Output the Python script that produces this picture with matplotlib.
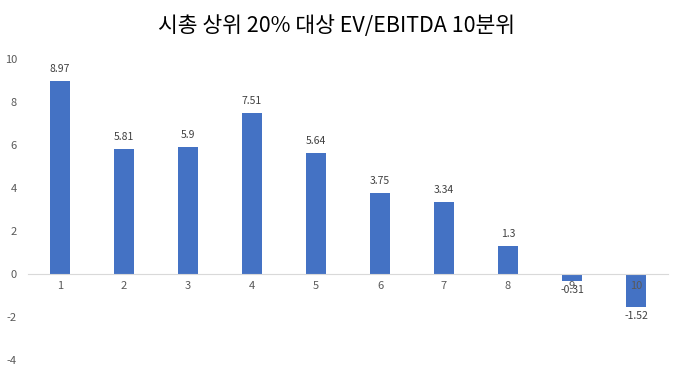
import matplotlib
matplotlib.use("Agg")
import matplotlib.pyplot as plt

plt.rcParams['font.family'] = ['Noto Sans CJK KR', 'DejaVu Sans']
plt.rcParams['axes.unicode_minus'] = False

deciles = ['1', '2', '3', '4', '5', '6', '7', '8', '9', '10']
values = [8.97, 5.81, 5.9, 7.51, 5.64, 3.75, 3.34, 1.3, -0.31, -1.52]
labels = ['8.97', '5.81', '5.9', '7.51', '5.64', '3.75', '3.34', '1.3', '-0.31', '-1.52']

fig = plt.figure(figsize=(6.74, 3.67), dpi=100)
ax = fig.add_axes([28 / 674, 0.019, 640 / 674, 0.82])

xs = range(len(values))
ax.bar(xs, values, width=0.31, color='#4472C4', zorder=2)
ax.set_axisbelow(False)

for x, v, t in zip(xs, values, labels):
    if v >= 0:
        ax.annotate(t, (x, v), xytext=(0, 5), textcoords='offset points',
                    ha='center', va='bottom', fontsize=7.5, color='#404040')
    else:
        ax.annotate(t, (x, v), xytext=(0, -3), textcoords='offset points',
                    ha='center', va='top', fontsize=7.5, color='#404040')

ax.set_xlim(-0.5, 9.5)
ax.set_ylim(-4, 10)
ax.set_yticks(range(-4, 11, 2))
ax.set_xticks(list(xs))
ax.set_xticklabels(deciles)

for s in ['top', 'right', 'left']:
    ax.spines[s].set_visible(False)
ax.spines['bottom'].set_position(('data', 0))
ax.spines['bottom'].set_color('#D9D9D9')
ax.tick_params(axis='both', length=0, labelsize=8, colors='#595959')
ax.tick_params(axis='x', pad=5)
ax.tick_params(axis='y', pad=8)

fig.text(0.5, 0.928, '시총 상위 20% 대상 EV/EBITDA 10분위', ha='center', va='center',
         fontsize=15.5, color='#000000')

fig.savefig('out.png', dpi=100)
